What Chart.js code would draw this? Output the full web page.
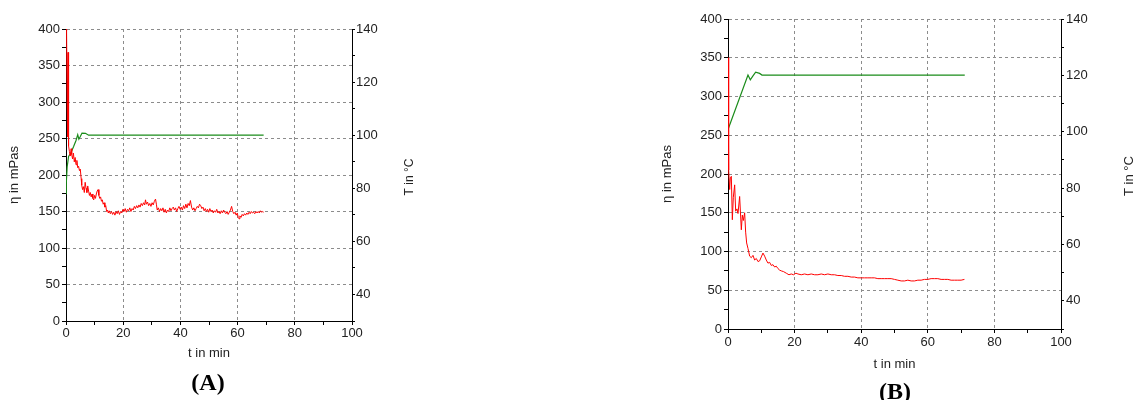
<!DOCTYPE html>
<html>
<head>
<meta charset="utf-8">
<script src="https://cdn.jsdelivr.net/npm/chart.js@4.4.1/dist/chart.umd.min.js"></script>
<style>
  body { margin: 0; background: #fff; width: 1134px; height: 400px; overflow: hidden; position: relative; }
  canvas { position: absolute; top: 0; }
  #chartA { left: 0; }
  #chartB { left: 560px; }
  .panel { position: absolute; font: bold 24px 'Liberation Serif', 'Times New Roman', serif; color: #000; transform: translate(-50%, -50%); }
</style>
</head>
<body>
<canvas id="chartA" width="450" height="400"></canvas>
<canvas id="chartB" width="574" height="400"></canvas>
<div class="panel" style="left:208px; top:382px;">(A)</div>
<div class="panel" style="left:895px; top:391px;">(B)</div>
<script>
// Axis text
const xTitle = 't in min';
const leftTitle = 'η in mPas';
const rightTitle = 'T in °C';

// Panel A: viscosity (red) vs time
const aViscTime = [
    0, 0.2, 0.4, 0.5, 0.6, 0.7, 0.8, 0.9, 1.0, 1.2,
    1.5, 1.8, 2.0, 2.3, 2.6, 2.9, 3.2, 3.5, 3.8, 4.1,
    4.4, 4.7, 5.0, 5.3, 5.5, 5.8, 6.1, 6.4, 6.7, 7.0,
    7.3, 7.6, 7.9, 8.2, 8.5, 8.8, 9.1, 9.4, 9.7, 10.0,
    10.3, 10.6, 10.9, 11.2, 11.5, 11.8, 12.1, 12.4, 12.7, 13.0,
    13.3, 13.6, 13.9, 14.2, 14.5, 14.8, 15.1, 15.5, 15.9, 16.3,
    16.7, 17.1, 17.5, 17.9, 18.3, 18.7, 19.1, 19.5, 19.9, 20.3,
    20.7, 21.1, 21.5, 21.9, 22.3, 22.7, 23.1, 23.5, 23.9, 24.3,
    24.7, 25.1, 25.5, 25.9, 26.3, 26.7, 27.1, 27.5, 27.8, 28.1,
    28.5, 28.9, 29.3, 29.7, 30.1, 30.5, 30.9, 31.3, 31.6, 31.9,
    32.3, 32.7, 33.1, 33.5, 33.9, 34.3, 34.7, 35.1, 35.5, 35.9,
    36.3, 36.7, 37.1, 37.5, 37.9, 38.3, 38.7, 39.1, 39.5, 39.9,
    40.3, 40.7, 41.1, 41.5, 41.9, 42.3, 42.7, 43.1, 43.5, 43.9,
    44.3, 44.7, 45.1, 45.5, 45.9, 46.3, 46.7, 47.1, 47.5, 47.9,
    48.3, 48.7, 49.1, 49.5, 49.9, 50.3, 50.7, 51.1, 51.5, 51.9,
    52.3, 52.7, 53.1, 53.5, 53.9, 54.3, 54.7, 55.1, 55.5, 55.9,
    56.3, 56.7, 57.1, 57.5, 57.9, 58.3, 58.7, 59.1, 59.5, 59.9,
    60.2, 60.5, 60.8, 61.2, 61.6, 62.0, 62.4, 62.8, 63.2, 63.6,
    64.0, 64.4, 64.8, 65.2, 65.6, 66.0, 66.4, 66.8, 67.2, 67.6,
    68.0, 68.4, 68.8, 69.1
];
const aVisc = [
    400, 398, 300, 252, 330, 368, 345, 300, 240, 232,
    226, 236, 228, 222, 230, 218, 224, 214, 220, 210,
    212, 206, 208, 195, 186, 180, 184, 176, 190, 182,
    176, 185, 178, 172, 176, 170, 174, 168, 166, 172,
    168, 174, 178, 180, 172, 168, 170, 164, 166, 160,
    162, 156, 158, 150, 152, 148, 151, 147, 150, 146,
    149, 145, 150, 147, 151, 146, 150, 148, 153, 150,
    154, 149, 153, 151, 155, 150, 154, 152, 157, 154,
    158, 155, 159, 156, 161, 158, 162, 159, 166, 160,
    163, 158, 161, 157, 162, 159, 164, 167, 160, 152,
    155, 150, 154, 151, 155, 149, 153, 148, 152, 150,
    155, 151, 154, 156, 152, 155, 150, 154, 157, 153,
    156, 152, 158, 154, 160, 155, 161, 158, 165, 156,
    152, 155, 151, 154, 157, 155, 160, 158, 154, 156,
    151, 154, 150, 153, 149, 154, 150, 152, 148, 151,
    149, 153, 148, 150, 147, 151, 148, 152, 149, 147,
    150, 146, 149, 152, 157, 150, 147, 149, 145, 148,
    142, 140, 144, 142, 146, 144, 147, 145, 148, 146,
    149, 147, 150, 148, 149, 147, 150, 148, 150, 148,
    151, 149, 150, 149
];

// Panel A: temperature (green) vs time
const aTempTime = [0, 0.1, 0.4, 0.9, 1.7, 2.7, 3.5, 4.1, 4.5, 5.0, 5.6, 6.8, 7.9, 69.1];
const aTemp = [78, 82, 88, 92, 93.3, 95.8, 98, 100.2, 98.5, 99.5, 100.8, 100.7, 100, 100];

// Panel B: viscosity (red) vs time
const bViscTime = [
    0, 0.1, 0.2, 0.3, 0.5, 0.7, 1.0, 1.3, 1.6, 2.0,
    2.3, 2.7, 3.0, 3.5, 4.0, 4.3, 4.6, 5.0, 5.3, 5.6,
    6.0, 6.5, 7.0, 7.5, 8.0, 8.5, 9.0, 9.5, 10.0, 10.5,
    11.0, 11.5, 12.0, 12.5, 13.0, 13.5, 14.0, 14.5, 15.0, 15.5,
    16.0, 16.7, 17.5, 18.3, 19.0, 19.7, 20.4, 21.0, 22.0, 23.0,
    24, 25, 26, 27, 28, 29, 30, 31, 32, 33,
    34, 35, 36, 37, 38, 39, 40, 41, 42, 43,
    44, 45, 46, 47, 48, 49, 50, 51, 52, 53,
    54, 55, 56, 57, 58, 59, 60, 61, 62, 63,
    64, 65, 66, 67, 68, 69, 70, 71
];
const bVisc = [
    350, 300, 245, 205, 180, 195, 197, 141, 170, 186,
    152, 155, 149, 171, 128, 147, 140, 150, 125, 111,
    104, 94, 92, 95, 89, 91, 87, 88, 93, 98,
    94, 89, 85, 86, 82, 83, 80, 81, 78, 76,
    75, 74, 72, 70, 71, 70, 72, 71, 70, 71,
    70, 71, 70, 70, 71, 70, 71, 70, 70, 69,
    69, 68, 68, 67, 67, 66, 66, 66, 66, 66,
    66, 65, 65, 65, 65, 65, 64, 63, 62, 62,
    63, 62, 62, 63, 63, 64, 64, 65, 65, 65,
    64, 64, 64, 63, 63, 63, 63, 64
];

// Panel B: temperature (green) vs time
const bTempTime = [0, 6.0, 6.7, 7.5, 8.3, 9.5, 10.2, 71.1];
const bTemp = [100.8, 120.1, 118.4, 119.8, 121.1, 120.7, 120.1, 120.1];

// Tick values (major labelled, minor unlabelled)
const xTicks = [0, 10, 20, 30, 40, 50, 60, 70, 80, 90, 100];
const leftTicks = [0, 25, 50, 75, 100, 125, 150, 175, 200, 225, 250, 275, 300, 325, 350, 375, 400];
const rightTicks = [30, 40, 50, 60, 70, 80, 90, 100, 110, 120, 130, 140];

const tickFont = { family: "'Liberation Sans Narrow', 'Arial Narrow', 'Liberation Sans', sans-serif", size: 13 };
const gridColor = '#8c8c8c';

function toPoints(xs, ys) {
    return xs.map((x, i) => ({ x: x, y: ys[i] }));
}

// Draws the right-hand axis title reading bottom to top
const rightTitlePlugin = {
    id: 'rightTitle',
    afterDraw(chart, args, opts) {
        const { ctx, chartArea } = chart;
        ctx.save();
        ctx.translate(chartArea.right + opts.offset, (chartArea.top + chartArea.bottom) / 2 + 2);
        ctx.rotate(-Math.PI / 2);
        ctx.font = opts.size + "px 'Liberation Sans Narrow', 'Arial Narrow', 'Liberation Sans', sans-serif";
        ctx.fillStyle = '#222';
        ctx.textAlign = 'center';
        ctx.textBaseline = 'middle';
        ctx.fillText(rightTitle, 0, 0);
        ctx.restore();
    }
};

function makeChart(canvas, viscTime, visc, tempTime, temp, box) {
    return new Chart(canvas, {
        type: 'line',
        data: {
            datasets: [
                {
                    data: toPoints(viscTime, visc),
                    borderColor: '#ff0000',
                    borderWidth: 1,
                    pointRadius: 0,
                    yAxisID: 'y'
                },
                {
                    data: toPoints(tempTime, temp),
                    borderColor: '#1a8c1a',
                    borderWidth: 1.2,
                    pointRadius: 0,
                    yAxisID: 'y2'
                }
            ]
        },
        options: {
            responsive: false,
            animation: false,
            layout: { padding: box.padding },
            plugins: {
                legend: { display: false },
                tooltip: { enabled: false },
                rightTitle: { offset: box.rightTitleOffset, size: box.rightTitleSize }
            },
            scales: {
                x: {
                    type: 'linear',
                    min: 0,
                    max: 100,
                    afterBuildTicks: s => { s.ticks = xTicks.map(v => ({ value: v })); },
                    afterFit: s => { s.height = box.xHeight; },
                    grid: {
                        color: c => (c.tick && c.tick.value % 20 === 0 && c.tick.value > 0 && c.tick.value < 100) ? gridColor : 'transparent',
                        tickColor: '#000',
                        tickLength: 4
                    },
                    border: { color: '#000', width: 1, dash: [3, 3] },
                    ticks: {
                        autoSkip: false,
                        maxRotation: 0,
                        padding: box.xPad,
                        color: '#222',
                        font: tickFont,
                        callback: v => (v % 20 === 0 ? v : '')
                    },
                    title: { display: true, text: xTitle, color: '#222', font: tickFont }
                },
                y: {
                    position: 'left',
                    min: 0,
                    max: 400,
                    afterBuildTicks: s => { s.ticks = leftTicks.map(v => ({ value: v })); },
                    afterFit: s => { s.width = box.leftWidth; },
                    grid: {
                        color: c => (c.tick && c.tick.value % 50 === 0 && c.tick.value > 0) ? gridColor : 'transparent',
                        tickColor: '#000',
                        tickLength: 4
                    },
                    border: { color: '#000', width: 1, dash: [3, 3] },
                    ticks: {
                        autoSkip: false,
                        padding: 2,
                        color: '#222',
                        font: tickFont,
                        callback: v => (v % 50 === 0 ? v : '')
                    },
                    title: { display: true, text: leftTitle, color: '#222', font: tickFont }
                },
                y2: {
                    position: 'right',
                    min: 30,
                    max: 140,
                    afterBuildTicks: s => { s.ticks = rightTicks.map(v => ({ value: v })); },
                    afterFit: s => { s.width = box.rightWidth; },
                    grid: { drawOnChartArea: false, tickColor: '#000', tickLength: 3 },
                    border: { color: '#000', width: 1 },
                    ticks: {
                        autoSkip: false,
                        padding: box.rightPad,
                        color: '#222',
                        font: tickFont,
                        callback: v => (v % 20 === 0 ? v : '')
                    }
                }
            }
        },
        plugins: [rightTitlePlugin]
    });
}

makeChart(document.getElementById('chartA'), aViscTime, aVisc, aTempTime, aTemp, {
    padding: { left: 3, top: 29, right: 0, bottom: 35 },
    leftWidth: 63, rightWidth: 98, xHeight: 44, xPad: 1, rightPad: 1,
    rightTitleOffset: 58, rightTitleSize: 12
});

makeChart(document.getElementById('chartB'), bViscTime, bVisc, bTempTime, bTemp, {
    padding: { left: 96, top: 19, right: 0, bottom: 24 },
    leftWidth: 72, rightWidth: 73, xHeight: 47, xPad: 2, rightPad: 2,
    rightTitleOffset: 68, rightTitleSize: 13
});
</script>
</body>
</html>
